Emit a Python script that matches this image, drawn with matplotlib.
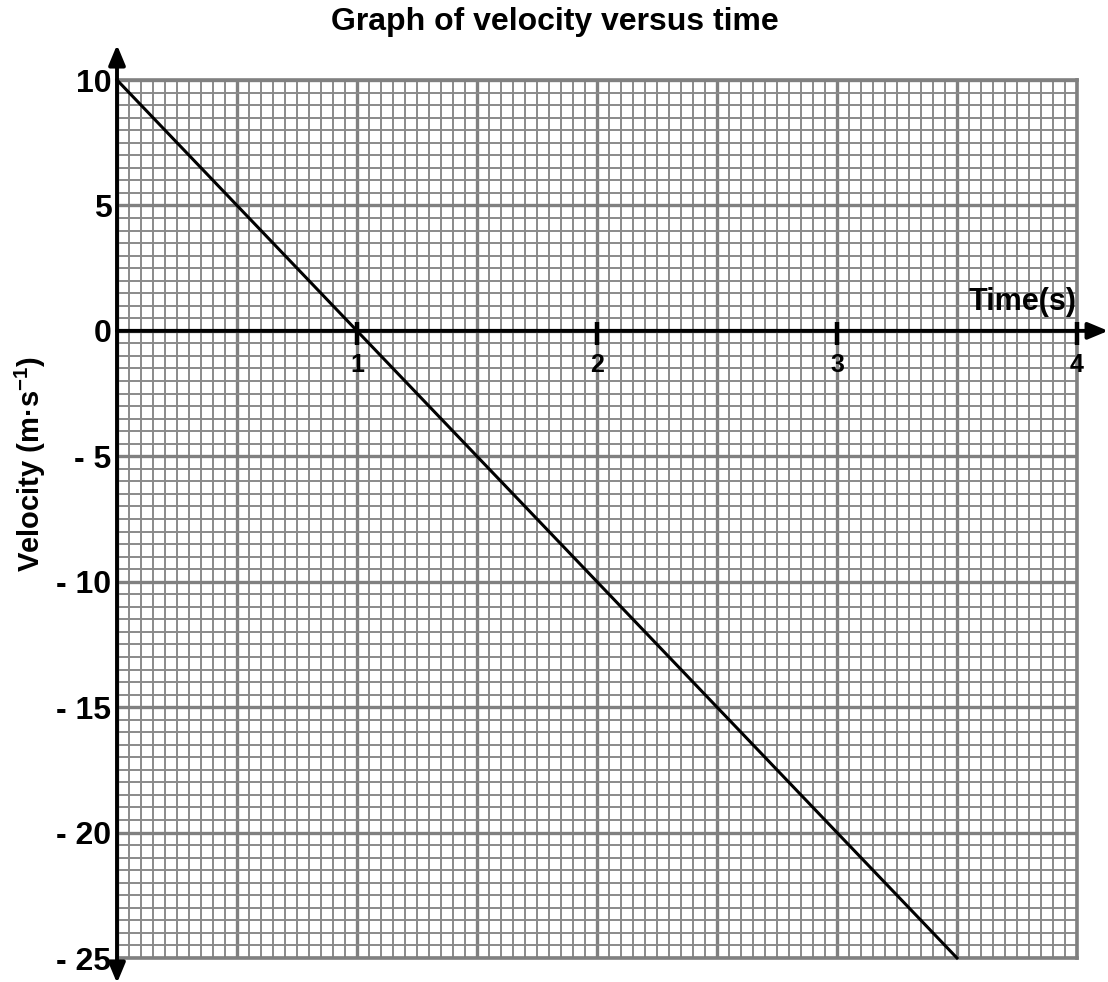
import matplotlib
matplotlib.use("Agg")
import matplotlib.pyplot as plt
from matplotlib.ticker import MultipleLocator

plt.rcParams['font.family'] = ['Liberation Sans', 'DejaVu Sans']
plt.rcParams['font.weight'] = 'bold'
plt.rcParams['mathtext.fontset'] = 'custom'
plt.rcParams['mathtext.rm'] = 'Liberation Sans:bold'
plt.rcParams['mathtext.bf'] = 'Liberation Sans:bold'
plt.rcParams['mathtext.default'] = 'bf'

# data
time_s = [0, 3.5]
velocity = [10, -25]
y_ticks = [10, 5, 0, -5, -10, -15, -20, -25]
y_tick_labels = ["10", "5", "0", "- 5", "- 10", "- 15", "- 20", "- 25"]
x_ticks = [1, 2, 3, 4]
x_tick_labels = ["1", "2", "3", "4"]

fig = plt.figure(figsize=(11.08, 9.82), dpi=100)
ax = fig.add_axes([117/1108, 1-958/982, 960/1108, 878/982])
ax.set_xlim(0, 4)
ax.set_ylim(-25, 10)

ax.xaxis.set_major_locator(MultipleLocator(0.5))
ax.xaxis.set_minor_locator(MultipleLocator(0.05))
ax.yaxis.set_major_locator(MultipleLocator(5))
ax.yaxis.set_minor_locator(MultipleLocator(0.5))
ax.grid(which='minor', color='#8a8a8a', linewidth=1.4)
ax.grid(which='major', color='#808080', linewidth=2.4)
ax.set_axisbelow(True)
ax.tick_params(which='both', length=0)
ax.set_xticklabels([])
ax.set_yticks(y_ticks)
ax.set_yticklabels(y_tick_labels, fontsize=23, fontweight='bold')
ax.tick_params(axis='y', pad=4)
for s in ['top', 'right', 'bottom']:
    ax.spines[s].set_color('#808080')
    ax.spines[s].set_linewidth(2.6)
ax.spines['left'].set_visible(False)

# axes with arrows
arrow_kw = dict(arrowstyle='-|>,head_length=1.2,head_width=0.5', color='black', lw=2.8,
                shrinkA=0, shrinkB=0)
ax.annotate('', xy=(0, 11.4), xytext=(0, 0), arrowprops=arrow_kw, annotation_clip=False)
ax.annotate('', xy=(0, -26.0), xytext=(0, 0), arrowprops=arrow_kw, annotation_clip=False)
ax.annotate('', xy=(4.13, 0), xytext=(0, 0), arrowprops=arrow_kw, annotation_clip=False)

# x ticks on the axis
for xt, lab in zip(x_ticks, x_tick_labels):
    ax.plot([xt, xt], [-0.55, 0.37], color='black', lw=3.2, clip_on=False,
            solid_capstyle='butt', zorder=5)
    ax.text(xt, -0.9, lab, ha='center', va='top', fontsize=18, fontweight='bold', zorder=6)

ax.text(4.0, 0.55, 'Time(s)', ha='right', va='bottom', fontsize=22, fontweight='bold', zorder=6)

# data line
ax.plot(time_s, velocity, color='black', lw=2.2, zorder=4, clip_on=False)

fig.text(30/1108, 1-464/982, 'Velocity (m·s$^{-1}$)', rotation=90, ha='center', va='center',
         fontsize=21, fontweight='bold')
fig.text(555/1108, 1-22/982, 'Graph of velocity versus time', ha='center', va='center',
         fontsize=23, fontweight='bold')

fig.savefig('out.png', dpi=100)
